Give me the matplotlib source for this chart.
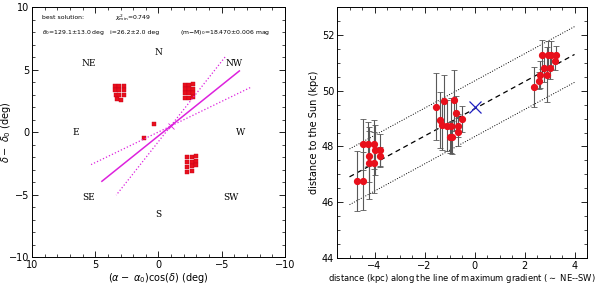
import matplotlib
matplotlib.use('Agg')
import matplotlib.pyplot as plt
import numpy as np
from matplotlib.ticker import MultipleLocator

# --- left panel data: field positions (deg) ---
ne_x = [3.4, 3.1, 2.75, 3.4, 3.1, 2.75, 3.35, 3.1, 2.7, 3.3, 3.0]
ne_y = [3.7, 3.7, 3.65, 3.35, 3.35, 3.35, 3.0, 3.0, 2.95, 2.65, 2.6]
nw_x = [-2.1, -2.45, -2.75, -2.1, -2.45, -2.75, -2.1, -2.45, -2.75, -2.1, -2.45, -2.75]
nw_y = [3.76, 3.8, 3.81, 3.42, 3.42, 3.46, 3.1, 3.1, 3.1, 2.7, 2.7, 2.77]
sw_x = [-2.28, -2.62, -2.94, -2.28, -2.62, -2.94, -2.28, -2.62, -2.94, -2.28, -2.62]
sw_y = [-2.02, -1.98, -1.92, -2.37, -2.37, -2.32, -2.77, -2.72, -2.66, -3.17, -3.09]
iso_x = [0.36, 1.18]
iso_y = [0.68, -0.44]

# best solution
theta0, theta_err = 129.1, 13.0
centre_x, centre_y = -0.96, 0.48
half_len = 7.0

directions = ['N', 'S', 'E', 'W', 'NE', 'NW', 'SE', 'SW']
dir_x = [0.0, 0.0, 6.5, -6.5, 5.5, -6.0, 5.5, -5.7]
dir_y = [6.4, -6.6, -0.05, -0.05, 5.5, 5.5, -5.2, -5.2]

# --- right panel data: distance along gradient vs distance to the Sun ---
g_x = [-4.71, -4.48, -4.48, -4.25, -4.03, -4.24, -4.23, -4.01, -3.99, -3.77, -3.79,
       -1.56, -1.39, -1.23, -1.31, -1.12, -0.95, -0.83, -0.75, -0.51, -0.67, -0.67, -0.97, -0.90,
       2.39, 2.56, 2.61, 2.71, 2.95, 3.05, 3.25, 2.79, 3.03, 3.20, 2.88]
g_d = [46.76, 46.76, 48.08, 48.08, 48.08, 47.64, 47.42, 47.42, 47.86, 47.86, 47.64,
       49.43, 48.96, 49.64, 48.76, 48.75, 48.75, 49.65, 49.20, 48.99, 48.75, 48.53, 48.33, 48.33,
       50.13, 50.36, 50.58, 51.29, 51.29, 51.29, 51.29, 50.82, 50.82, 51.05, 50.58]
g_err = [1.07, 1.03, 0.91, 0.79, 0.88, 0.90, 1.29, 1.09, 0.90, 0.60, 0.35,
         1.19, 1.00, 0.93, 0.88, 0.92, 1.00, 1.09, 0.60, 0.47, 0.40, 0.50, 0.55, 0.60,
         0.71, 0.30, 0.50, 0.52, 0.50, 0.50, 0.30, 0.50, 0.40, 0.30, 0.98]

fit_a, fit_b, fit_band = 49.35, 0.488, 1.0
centre_d = 49.43

fig = plt.figure(figsize=(6, 2.85), dpi=100)
ax1 = fig.add_axes([0.0533, 0.098, 0.4217, 0.877])
ax2 = fig.add_axes([0.5617, 0.095, 0.4167, 0.880])

mag = '#dd22dd'
red = '#e8101c'

# left panel
for xs, ys in [(ne_x, ne_y), (nw_x, nw_y), (sw_x, sw_y), (iso_x, iso_y)]:
    ax1.plot(xs, ys, 's', color=red, ms=2.2, mec='#c8001a', mew=0.3)

for pa, ls, lw in [(theta0, '-', 1.1), (theta0 - theta_err, ':', 0.9), (theta0 + theta_err, ':', 0.9)]:
    r = np.array([-half_len, half_len])
    xs = centre_x + r * np.sin(np.radians(pa))
    ys = centre_y + r * np.cos(np.radians(pa))
    ax1.plot(xs, ys, ls, color=mag, lw=lw)
ax1.plot([centre_x], [centre_y], 'x', color=mag, ms=5, mew=0.6)

for lab, x, y in zip(directions, dir_x, dir_y):
    ax1.text(x, y, lab, ha='center', va='center', fontsize=6.5, family='DejaVu Serif')

fs = 4.4
ax1.text(9.2, 9.2, 'best solution:', fontsize=fs, va='center')
ax1.text(3.45, 9.2, r'$\chi^2_{\rm min}$=0.749', fontsize=fs, va='center')
ax1.text(9.2, 7.95, r'$\theta_0$=129.1' + '\u00b1' + '13.0 deg', fontsize=fs, va='center')
ax1.text(3.85, 7.95, 'i=26.2\u00b12.0 deg', fontsize=fs, va='center')
ax1.text(-1.7, 7.95, r'(m$-$M)$_0$=18.470' + '\u00b1' + '0.006 mag', fontsize=fs, va='center')

ax1.set_xlim(10, -10)
ax1.set_ylim(-10, 10)
ax1.xaxis.set_major_locator(MultipleLocator(5))
ax1.xaxis.set_minor_locator(MultipleLocator(1))
ax1.yaxis.set_major_locator(MultipleLocator(5))
ax1.yaxis.set_minor_locator(MultipleLocator(1))
ax1.set_xlabel(r'($\alpha-$ $\alpha_0$)cos($\delta$) (deg)', fontsize=7, labelpad=1)
ax1.set_ylabel(r'$\delta-$ $\delta_0$ (deg)', fontsize=7)
ax1.yaxis.set_label_coords(-0.075, 0.5)

# right panel
xl = np.array([-5.0, 4.0])
ax2.plot(xl, fit_a + fit_b * xl, '--', color='k', lw=0.9, dashes=(4, 3))
ax2.plot(xl, fit_a + fit_band + fit_b * xl, ':', color='k', lw=0.7)
ax2.plot(xl, fit_a - fit_band + fit_b * xl, ':', color='k', lw=0.7)
ax2.errorbar(g_x, g_d, yerr=g_err, fmt='none', ecolor='0.35', elinewidth=0.8,
             capsize=2.2, capthick=0.6)
ax2.plot(g_x, g_d, 'o', color=red, ms=4.2, mec=red, zorder=5)
ax2.plot([0], [centre_d], 'x', color='#2020c0', ms=8, mew=0.9, zorder=6)

ax2.set_xlim(-5.5, 4.5)
ax2.set_ylim(44, 53)
ax2.xaxis.set_major_locator(MultipleLocator(2))
ax2.xaxis.set_minor_locator(MultipleLocator(0.5))
ax2.yaxis.set_major_locator(MultipleLocator(2))
ax2.yaxis.set_minor_locator(MultipleLocator(0.5))
ax2.set_xlabel(r'distance (kpc) along the line of maximum gradient ($\sim$ NE--SW)', fontsize=6, labelpad=1)
ax2.set_ylabel('distance to the Sun (kpc)', fontsize=7, labelpad=2)

for ax in (ax1, ax2):
    ax.tick_params(which='both', direction='in', top=True, right=True, labelsize=7, pad=2)
    ax.tick_params(which='major', length=4, width=0.6)
    ax.tick_params(which='minor', length=2, width=0.5)
    for s in ax.spines.values():
        s.set_linewidth(0.7)

fig.savefig('out.png', dpi=100)
